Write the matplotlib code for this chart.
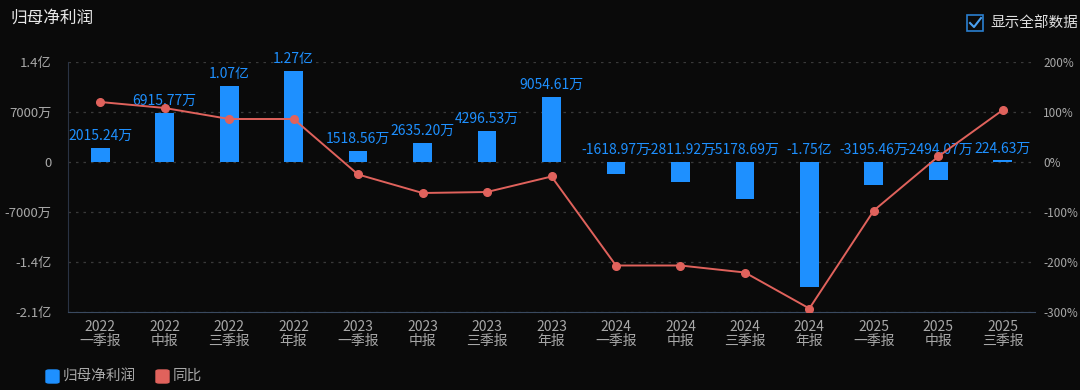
import matplotlib.pyplot as plt
import matplotlib.patches as patches
from matplotlib.lines import Line2D

plt.rcParams['font.family'] = ['Noto Sans CJK SC', 'DejaVu Sans']
plt.rcParams['axes.unicode_minus'] = False

# data (万元 / %)
years = ['2022', '2022', '2022', '2022', '2023', '2023', '2023', '2023',
         '2024', '2024', '2024', '2024', '2025', '2025', '2025']
periods = ['一季报', '中报', '三季报', '年报', '一季报', '中报', '三季报', '年报',
           '一季报', '中报', '三季报', '年报', '一季报', '中报', '三季报']
profit = [2015.24, 6915.77, 10700, 12700, 1518.56, 2635.20, 4296.53, 9054.61,
          -1618.97, -2811.92, -5178.69, -17500, -3195.46, -2494.07, 224.63]
profit_labels = ['2015.24万', '6915.77万', '1.07亿', '1.27亿', '1518.56万', '2635.20万',
                 '4296.53万', '9054.61万', '-1618.97万', '-2811.92万', '-5178.69万',
                 '-1.75亿', '-3195.46万', '-2494.07万', '224.63万']
yoy = [120, 108, 86, 86, -25, -62, -60, -29, -207, -207, -221, -293, -97, 11, 104]

left_ticks = [14000, 7000, 0, -7000, -14000, -21000]
left_labels = ['1.4亿', '7000万', '0', '-7000万', '-1.4亿', '-2.1亿']
right_ticks = [200, 100, 0, -100, -200, -300]

bg = '#0a0a0a'
blue = '#1e90ff'
red = '#e0625c'
gray = '#a8a8a8'

fig = plt.figure(figsize=(10.8, 3.9), dpi=100, facecolor=bg)
W, H = 1080, 390
ax = fig.add_axes([68 / W, (H - 312) / H, (1035 - 68) / W, 250 / H])
ax.set_facecolor(bg)

x = list(range(len(profit)))
ax.bar(x, profit, width=0.29, color=blue, zorder=2)
ax.set_xlim(-0.5, len(profit) - 0.5)
ax.set_ylim(-21000, 14000)
ax.set_yticks(left_ticks)
ax.set_yticklabels(left_labels)
ax.set_xticks(x)
ax.set_xticklabels([f'{y}\n{p}' for y, p in zip(years, periods)], linespacing=0.95)
ax.tick_params(axis='x', colors=gray, labelsize=10, length=0, pad=6)
ax.tick_params(axis='y', colors=gray, labelsize=9.5, length=0, pad=12)
ax.grid(axis='y', color='#3a3a3a', linestyle=(0, (2, 4)), linewidth=0.9, zorder=0)
for s in ['top', 'right']:
    ax.spines[s].set_visible(False)
ax.spines['left'].set_color('#2a3344')
ax.spines['bottom'].set_color('#3a4a60')

for xi, v, lab in zip(x, profit, profit_labels):
    ty = v + 700 if v > 0 else 700
    ax.text(xi, ty, lab, color=blue, fontsize=10, ha='center', va='bottom', zorder=3)

ax2 = ax.twinx()
ax2.set_ylim(-300, 200)
ax2.set_yticks(right_ticks)
ax2.set_yticklabels([f'{t}%' for t in right_ticks])
ax2.tick_params(axis='y', colors=gray, labelsize=8.5, length=0, pad=6)
for s in ax2.spines.values():
    s.set_visible(False)
ax2.plot(x, yoy, color=red, linewidth=1.4, marker='o', markersize=5.5, zorder=4)

# title and checkbox
fig.text(10 / W, 1 - 18 / H, '归母净利润', color='#e8e8e8', fontsize=12, va='center', ha='left')
fig.patches.append(patches.Rectangle((967 / W, 1 - 31 / H), 16 / W, 16 / H,
                                     transform=fig.transFigure, fill=False,
                                     edgecolor='#2a7fd0', linewidth=1.2))
fig.lines.append(Line2D([970 / W, 974 / W, 981 / W], [1 - 23 / H, 1 - 27 / H, 1 - 18 / H],
                        transform=fig.transFigure, color='#4aa0f0', linewidth=1.5))
fig.text(990 / W, 1 - 23 / H, '显示全部数据', color='#e0e0e0', fontsize=10.5, va='center', ha='left')

# legend
fig.patches.append(patches.FancyBboxPatch((46 / W, 1 - 383 / H), 13 / W, 13 / H,
                                          boxstyle='round,pad=0,rounding_size=0.003',
                                          transform=fig.transFigure, color=blue))
fig.text(63 / W, 1 - 376 / H, '归母净利润', color=gray, fontsize=10.5, va='center', ha='left')
fig.patches.append(patches.FancyBboxPatch((156 / W, 1 - 383 / H), 13 / W, 13 / H,
                                          boxstyle='round,pad=0,rounding_size=0.003',
                                          transform=fig.transFigure, color=red))
fig.text(173 / W, 1 - 376 / H, '同比', color=gray, fontsize=10.5, va='center', ha='left')

fig.savefig('out.png', dpi=100, facecolor=bg)
